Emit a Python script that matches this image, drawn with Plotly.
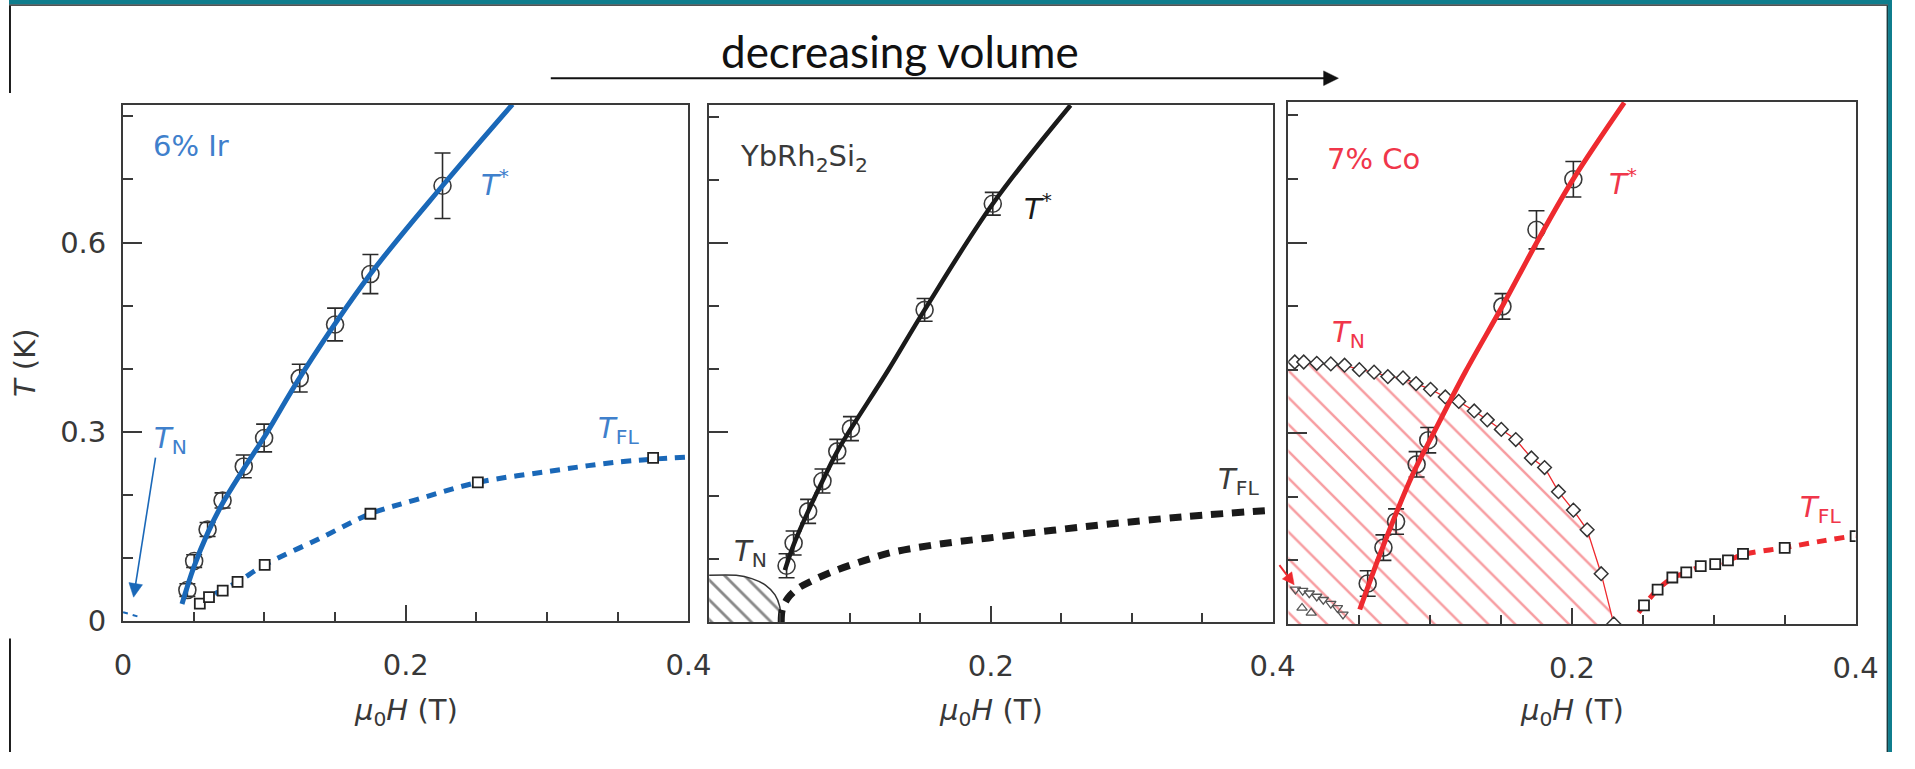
import math
import plotly.graph_objects as go

W, H = 1915, 769

# ---------------- data ----------------
# Panel 1: 6% Ir
ir_star_H = [0.0455, 0.0503, 0.0598, 0.0704, 0.0854, 0.0998, 0.125, 0.150, 0.175, 0.226]
ir_star_T = [0.049, 0.095, 0.145, 0.191, 0.245, 0.290, 0.385, 0.470, 0.550, 0.690]
ir_star_err = [0.010, 0.010, 0.011, 0.012, 0.018, 0.022, 0.022, 0.026, 0.031, 0.052]
ir_fit_H = [0.0417, 0.050, 0.060, 0.070, 0.085, 0.100, 0.127, 0.175, 0.226, 0.2755]
ir_fit_T = [0.027, 0.085, 0.140, 0.185, 0.240, 0.292, 0.393, 0.550, 0.690, 0.819]
ir_fl_H = [0.0543, 0.0608, 0.0705, 0.0810, 0.1002, 0.175, 0.251, 0.375]
ir_fl_T = [0.0274, 0.0377, 0.0481, 0.0620, 0.0888, 0.170, 0.2196, 0.2584]
ir_flfit_H = [0.065, 0.081, 0.1002, 0.140, 0.175, 0.207, 0.251, 0.303, 0.350, 0.400]
ir_flfit_T = [0.043, 0.062, 0.0888, 0.1318, 0.170, 0.192, 0.2196, 0.2377, 0.252, 0.260]
ir_tn_H = [0.0, 0.012]
ir_tn_T = [0.014, 0.006]

# Panel 2: YbRh2Si2
yb_star_H = [0.055, 0.060, 0.0703, 0.0805, 0.091, 0.1007, 0.153, 0.2014]
yb_star_T = [0.089, 0.125, 0.175, 0.223, 0.270, 0.306, 0.494, 0.662]
yb_star_err = [0.019, 0.019, 0.019, 0.019, 0.019, 0.019, 0.018, 0.018]
yb_fit_H = [0.0538, 0.060, 0.0703, 0.0805, 0.091, 0.1007, 0.127, 0.153, 0.2014, 0.2566]
yb_fit_T = [0.082, 0.122, 0.175, 0.223, 0.270, 0.306, 0.398, 0.494, 0.662, 0.818]
yb_flfit_H = [0.0512, 0.052, 0.056, 0.063, 0.072, 0.088, 0.110, 0.1296, 0.160, 0.1987, 0.2677, 0.337, 0.400]
yb_flfit_T = [0.000, 0.020, 0.038, 0.053, 0.064, 0.080, 0.097, 0.110, 0.122, 0.133, 0.151, 0.1665, 0.177]
yb_tn_H = [0.0, 0.0192, 0.0303, 0.040, 0.0468, 0.0501, 0.0512]
yb_tn_T = [0.0738, 0.0738, 0.0686, 0.0583, 0.0428, 0.0247, 0.0]

# Panel 3: 7% Co
co_star_H = [0.056, 0.0671, 0.076, 0.0905, 0.0987, 0.151, 0.175, 0.201]
co_star_T = [0.0635, 0.120, 0.161, 0.251, 0.289, 0.4995, 0.620, 0.6995]
co_star_err = [0.020, 0.020, 0.020, 0.020, 0.020, 0.020, 0.030, 0.028]
co_fit_H = [0.0504, 0.0656, 0.0877, 0.1029, 0.125, 0.151, 0.1747, 0.201, 0.2369]
co_fit_T = [0.0226, 0.115, 0.235, 0.302, 0.397, 0.500, 0.598, 0.700, 0.820]
co_tn_H = [0.0046, 0.0109, 0.0201, 0.030, 0.0397, 0.0501, 0.0605, 0.0702, 0.0809, 0.0901,
           0.1003, 0.1107, 0.1202, 0.1311, 0.1403, 0.1502, 0.1604, 0.1714, 0.1807, 0.1905,
           0.201, 0.2107, 0.2206, 0.2295]
co_tn_T = [0.412, 0.412, 0.410, 0.409, 0.407, 0.400, 0.396, 0.389, 0.387, 0.378,
           0.369, 0.357, 0.350, 0.335, 0.321, 0.306, 0.290, 0.261, 0.246, 0.208,
           0.179, 0.148, 0.079, 0.0]
co_tri_dn_H = [0.0051, 0.0102, 0.0148, 0.0201, 0.0247, 0.030, 0.0347, 0.0386]
co_tri_dn_T = [0.0543, 0.0523, 0.0482, 0.0431, 0.038, 0.0318, 0.0251, 0.0149]
co_tri_up_H = [0.0097, 0.0162]
co_tri_up_T = [0.0251, 0.0174]
co_fl_H = [0.2508, 0.2604, 0.2708, 0.2806, 0.2908, 0.301, 0.310, 0.3206, 0.350, 0.400]
co_fl_T = [0.029, 0.054, 0.073, 0.081, 0.091, 0.094, 0.100, 0.110, 0.1195, 0.138]
co_flfit_H = [0.247, 0.2508, 0.2604, 0.2708, 0.2806, 0.2908, 0.301, 0.310, 0.3206, 0.350, 0.378, 0.400]
co_flfit_T = [0.018, 0.029, 0.054, 0.072, 0.081, 0.090, 0.095, 0.100, 0.109, 0.120, 0.131, 0.139]

x_major = [0, 0.2, 0.4]
x_minor = [0.05, 0.1, 0.15, 0.25, 0.3, 0.35]
y_major = [0, 0.3, 0.6]
y_minor = [0.1, 0.2, 0.4, 0.5, 0.7, 0.8]
x_labels_first = ["0", "0.2", "0.4"]
x_labels_other = ["", "0.2", "0.4"]
y_labels = ["0", "0.3", "0.6"]

# ---------------- styles ----------------
FONT = "DejaVu Sans"
AX = "#3a3a3a"
TXT = "#383838"
BLUE = "#1a68b8"
BLUE_T = "#3f80cc"
RED = "#ee2a2f"
RED_T = "#f0364a"
BLK = "#1a1a1a"

# panel frames in pixels (left, right, top, bottom) and y-range tops
panels = [
    dict(l=116, r=691, t=107, b=635, ymax=0.8186),
    dict(l=712, r=1285, t=107, b=636, ymax=0.8189),
    dict(l=1301, r=1878, t=104, b=638, ymax=0.8215),
]


def px(xp, yp):
    return xp / W, 1 - yp / H


fig = go.Figure()


def add(trace, k):
    sfx = "" if k == 0 else str(k + 1)
    trace.update(xaxis="x" + sfx, yaxis="y" + sfx, showlegend=False, hoverinfo="skip")
    fig.add_trace(trace)


def circles(Hs, Ts, errs, k):
    add(go.Scatter(x=Hs, y=Ts, mode="markers",
                   marker=dict(symbol="circle-open", size=17, color="#3a3a3a", line=dict(width=1.6, color="#3a3a3a")),
                   error_y=dict(type="data", array=errs, color="#2a2a2a", thickness=1.6, width=8)), k)


def squares(Hs, Ts, k, size=10):
    add(go.Scatter(x=Hs, y=Ts, mode="markers",
                   marker=dict(symbol="square", size=size, color="white", line=dict(width=1.8, color="#222"))), k)


# ---- panel 1 ----
add(go.Scatter(x=ir_tn_H, y=ir_tn_T, mode="lines", line=dict(color=BLUE, width=2, dash="5px,5px")), 0)
add(go.Scatter(x=ir_flfit_H, y=ir_flfit_T, mode="lines", line=dict(color=BLUE, width=5, dash="10px,8px", shape="spline", smoothing=1.0)), 0)
squares(ir_fl_H, ir_fl_T, 0, size=10)
circles(ir_star_H, ir_star_T, ir_star_err, 0)
add(go.Scatter(x=ir_fit_H, y=ir_fit_T, mode="lines", line=dict(color=BLUE, width=5, shape="spline", smoothing=1.0)), 0)

# ---- panel 2 ----
add(go.Scatter(x=yb_tn_H + [0.0], y=yb_tn_T + [0.0], mode="none", fill="toself", fillcolor="rgba(0,0,0,0)",
               fillpattern=dict(shape="\\", fgcolor="#111", bgcolor="rgba(0,0,0,0)", size=14, solidity=0.2)), 1)
add(go.Scatter(x=yb_tn_H, y=yb_tn_T, mode="lines", line=dict(color="#333", width=1.5, shape="spline")), 1)
add(go.Scatter(x=yb_flfit_H, y=yb_flfit_T, mode="lines", line=dict(color=BLK, width=7, dash="12px,9px", shape="spline", smoothing=1.0)), 1)
circles(yb_star_H, yb_star_T, yb_star_err, 1)
add(go.Scatter(x=yb_fit_H, y=yb_fit_T, mode="lines", line=dict(color=BLK, width=4.5, shape="spline", smoothing=1.0)), 1)

# ---- panel 3 ----
poly_H = [0.0, 0.0] + co_tn_H + [0.0]
poly_T = [0.0, co_tn_T[0] - 0.008] + co_tn_T + [0.0]
add(go.Scatter(x=poly_H, y=poly_T, mode="none", fill="toself", fillcolor="rgba(0,0,0,0)",
               fillpattern=dict(shape="\\", fgcolor="#f03a42", bgcolor="rgba(0,0,0,0)", size=19, solidity=0.13)), 2)
add(go.Scatter(x=co_tn_H, y=co_tn_T, mode="lines+markers", line=dict(color=RED, width=1.3),
               marker=dict(symbol="diamond", size=10.5, color="white", line=dict(width=1.5, color="#333"))), 2)
add(go.Scatter(x=co_tri_dn_H, y=co_tri_dn_T, mode="markers",
               marker=dict(symbol="triangle-down-open", size=9, color="#555", line=dict(width=1.3, color="#555"))), 2)
add(go.Scatter(x=co_tri_up_H, y=co_tri_up_T, mode="markers",
               marker=dict(symbol="triangle-up-open", size=9, color="#555", line=dict(width=1.3, color="#555"))), 2)
add(go.Scatter(x=co_flfit_H, y=co_flfit_T, mode="lines", line=dict(color=RED, width=5, dash="10px,8px", shape="spline", smoothing=1.0)), 2)
squares(co_fl_H, co_fl_T, 2, size=10)
circles(co_star_H, co_star_T, co_star_err, 2)
add(go.Scatter(x=co_fit_H, y=co_fit_T, mode="lines", line=dict(color=RED, width=5, shape="spline", smoothing=1.0)), 2)

# ---------------- axes ----------------
for k, p in enumerate(panels):
    sfx = "" if k == 0 else str(k + 1)
    xd = [p["l"] / W, p["r"] / W]
    yd = [1 - p["b"] / H, 1 - p["t"] / H]
    common = dict(showline=True, mirror=True, linecolor=AX, linewidth=2, showgrid=False, zeroline=False,
                  ticks="inside", tickwidth=2, tickcolor=AX, tickmode="array", fixedrange=True,
                  tickfont=dict(family=FONT, size=29, color=TXT))
    fig.layout["xaxis" + sfx] = dict(common, domain=xd, range=[0, 0.4], anchor="y" + sfx,
                                     tickvals=x_major, ticktext=x_labels_first if k == 0 else x_labels_other,
                                     ticklen=16, ticklabelstandoff=17,
                                     minor=dict(ticks="inside", tickmode="array", tickvals=x_minor, ticklen=9,
                                                tickwidth=2, tickcolor=AX))
    ycfg = dict(common, domain=yd, range=[0, p["ymax"]], anchor="x" + sfx,
                tickvals=y_major, ticktext=y_labels, showticklabels=(k == 0),
                ticklen=19, ticklabelstandoff=9,
                minor=dict(ticks="inside", tickmode="array", tickvals=y_minor, ticklen=10,
                           tickwidth=2, tickcolor=AX))
    if k == 0:
        ycfg["title"] = dict(text="<i>T</i> (K)", standoff=16, font=dict(family=FONT, size=29, color=TXT))
    fig.layout["yaxis" + sfx] = ycfg

# ---------------- text ----------------
ann = []


def label(text, xp, yp, color, size=29, family=FONT):
    x, y = px(xp, yp)
    ann.append(dict(text=text, x=x, y=y, xref="paper", yref="paper", showarrow=False,
                    xanchor="center", yanchor="middle", font=dict(family=family, size=size, color=color)))


T_STAR = "<i>T</i><sup>*</sup>"
T_N = "<i>T</i><sub>N</sub>"
T_FL = "<i>T</i><sub>FL</sub>"
X_TITLE = "<i>μ</i><sub>0</sub><i>H</i> (T)"

label("6% Ir", 185, 149, BLUE_T)
label(T_STAR, 494, 187, BLUE_T)
label(T_N, 164, 450, BLUE_T)
label(T_FL, 620, 440, BLUE_T)
label("YbRh<sub>2</sub>Si<sub>2</sub>", 809, 162, "#3a3a3a")
label(T_STAR, 1046, 212, BLK)
label(T_N, 754, 565, "#3a3a3a")
label(T_FL, 1250, 492, "#3a3a3a")
label("7% Co", 1388, 163, RED_T)
label(T_N, 1362, 342, RED_T)
label(T_STAR, 1641, 186, RED_T)
label(T_FL, 1842, 521, RED_T)
for p in panels:
    label(X_TITLE, (p["l"] + p["r"]) / 2, 728, TXT)

label("decreasing volume", 906, 52, "#111", size=44, family="Lato")

# ---------------- shapes: arrows and slide decorations ----------------
shapes = []


def rect(x0, y0, x1, y1, color):
    a, b = px(x0, y0)
    c, d = px(x1, y1)
    shapes.append(dict(type="rect", xref="paper", yref="paper", x0=a, y0=d, x1=c, y1=b,
                       fillcolor=color, line=dict(width=0), layer="above"))


def arrow(x0, y0, x1, y1, color, width, head_len, head_half):
    dx, dy = x1 - x0, y1 - y0
    L = math.hypot(dx, dy)
    ux, uy = dx / L, dy / L
    nx, ny = -uy, ux
    bx, by = x1 - head_len * ux, y1 - head_len * uy
    a, b = px(x0, y0)
    c, d = px(bx + ux, by + uy)
    shapes.append(dict(type="line", xref="paper", yref="paper", x0=a, y0=b, x1=c, y1=d,
                       line=dict(color=color, width=width), layer="above"))
    pts = [(x1, y1), (bx + head_half * nx, by + head_half * ny), (bx - head_half * nx, by - head_half * ny)]
    path = "M " + " L ".join("%.5f,%.5f" % px(*q) for q in pts) + " Z"
    shapes.append(dict(type="path", xref="paper", yref="paper", path=path, fillcolor=color,
                       line=dict(color=color, width=0.5), layer="above"))


arrow(551, 80, 1352, 80, "#111", 2, 15, 7.5)            # decreasing volume
arrow(149, 468, 126.7, 610.7, BLUE, 1.6, 14, 7)          # T_N arrow, panel 1
arrow(1292, 578, 1307, 598, RED, 2, 12, 6)               # red arrow, panel 3

rect(0, 0, W, 4.5, "#0f7d8d")
rect(0, 4.5, W, 6, "#1a1a1a")
rect(1911, 0, W, H, "#0f7d8d")
rect(1909.5, 6, 1911, H, "#1a3a40")
rect(0, 6, 2, 95, "#1a1a1a")
rect(0, 653, 2, H, "#1a1a1a")

fig.update_layout(width=W, height=H, margin=dict(l=0, r=0, t=0, b=0), paper_bgcolor="white",
                  plot_bgcolor="white", showlegend=False, annotations=ann, shapes=shapes,
                  font=dict(family=FONT))

fig.write_html("out.html", config={"displayModeBar": False},
               post_script="document.body.style.margin='0';document.body.style.overflow='hidden';")
